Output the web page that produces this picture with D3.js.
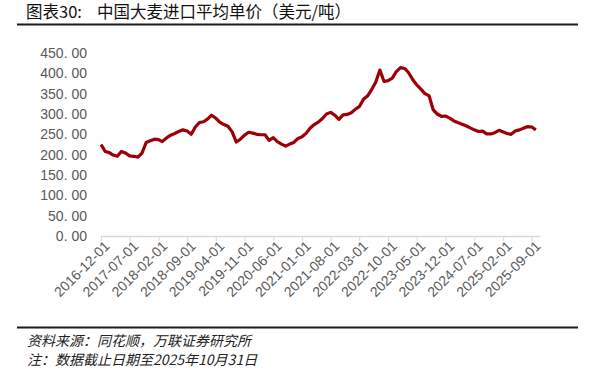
<!DOCTYPE html>
<html>
<head>
<meta charset="utf-8">
<script src="https://cdn.jsdelivr.net/npm/d3@7"></script>
<style>
  body { margin: 0; background: #fff; }
  svg { display: block; }
</style>
</head>
<body>
<div class="container"></div>
<script>
// monthly average import price of barley, USD/t, 2016-12 .. 2025-10
const startMonth = new Date(2016, 11, 1)
const endMonth = new Date(2025, 10, 1)

const prices = [
  225, 208, 205, 199, 196, 208, 204, 197, 196, 194,
  204, 230, 234, 238, 237, 232, 241, 248, 252, 257,
  261, 258, 250, 268, 279, 281, 288, 297, 290, 280,
  274, 270, 256, 231, 238, 248, 255, 253, 250, 249,
  249, 235, 242, 232, 226, 221, 226, 230, 240, 244,
  253, 265, 274, 280, 289, 300, 304, 297, 287, 298,
  299, 303, 312, 318, 336, 344, 360, 378, 408, 380,
  382, 388, 404, 414, 412, 402, 385, 372, 361, 350,
  345, 310, 300, 294, 295, 290, 283, 279, 275, 271,
  266, 261, 257, 258, 251, 251, 254, 260, 256, 252,
  250, 258, 261, 265, 269, 268, 261
]

const tickLabels = [
  '2016-12-01', '2017-07-01', '2018-02-01', '2018-09-01', '2019-04-01',
  '2019-11-01', '2020-06-01', '2021-01-01', '2021-08-01', '2022-03-01',
  '2022-10-01', '2023-05-01', '2023-12-01', '2024-07-01', '2025-02-01',
  '2025-09-01'
]

const yTicks = [0, 50, 100, 150, 200, 250, 300, 350, 400, 450]

const months = d3.timeMonth.range(startMonth, endMonth)
const dataset = months.map((m, i) => ({ date: m, value: prices[i] }))

const width = 591
const height = 374
const cjk = '"Noto Sans CJK SC", "Noto Sans", sans-serif'
const latin = '"Liberation Sans", Arial, sans-serif'

const svg = d3.select('.container')
  .append('svg')
  .attr('width', width)
  .attr('height', height)

// title + rules
svg.append('text')
  .attr('x', 26)
  .attr('y', 18)
  .attr('font-family', cjk)
  .attr('font-size', '16.5px')
  .attr('fill', '#111')
  .text('图表30:')

svg.append('text')
  .attr('x', 97)
  .attr('y', 18)
  .attr('font-family', cjk)
  .attr('font-size', '16.5px')
  .attr('fill', '#111')
  .text('中国大麦进口平均单价（美元/吨）')

svg.append('line')
  .attr('x1', 17).attr('x2', 578)
  .attr('y1', 24.5).attr('y2', 24.5)
  .attr('stroke', '#1a1a1a')
  .attr('stroke-width', 2)

svg.append('line')
  .attr('x1', 17).attr('x2', 578)
  .attr('y1', 327.5).attr('y2', 327.5)
  .attr('stroke', '#1a1a1a')
  .attr('stroke-width', 2)

const xScale = d3.scaleTime()
  .domain([startMonth, endMonth])
  .range([101, 540])

const yScale = d3.scaleLinear()
  .domain([0, 450])
  .range([236, 53])

// x axis
const parse = d3.timeParse('%Y-%m-%d')
const xAxis = svg.append('g')
  .attr('transform', 'translate(0, 236)')
  .call(d3.axisBottom(xScale)
    .tickValues(tickLabels.map(parse))
    .tickFormat(d3.timeFormat('%Y-%m-%d'))
    .tickSize(5)
    .tickSizeOuter(0))

xAxis.select('.domain').attr('stroke', '#d9d9d9').attr('stroke-width', 1.5)
xAxis.selectAll('.tick line').attr('stroke', '#d9d9d9')
xAxis.selectAll('text')
  .attr('font-family', latin)
  .attr('font-size', '14px')
  .attr('fill', '#595959')
  .attr('text-anchor', 'end')
  .attr('dx', '-0.1em')
  .attr('dy', '0.45em')
  .attr('transform', 'rotate(-45)')

// y axis, labels only
const yAxis = svg.append('g')
  .attr('transform', 'translate(89, 0)')
  .call(d3.axisLeft(yScale)
    .tickValues(yTicks)
    .tickFormat((d) => d3.format('.2f')(d).replace('.', '. '))
    .tickSize(0)
    .tickPadding(2))

yAxis.select('.domain').remove()
yAxis.selectAll('text')
  .attr('font-family', latin)
  .attr('font-size', '14px')
  .attr('fill', '#595959')
  .style('white-space', 'pre')

// price line
const line = d3.line()
  .x((d) => xScale(d.date))
  .y((d) => yScale(d.value))

svg.append('path')
  .datum(dataset)
  .attr('fill', 'none')
  .attr('stroke', '#9c0006')
  .attr('stroke-width', 3.2)
  .attr('stroke-linejoin', 'round')
  .attr('d', line)

// footer notes
svg.append('text')
  .attr('x', 27)
  .attr('y', 346)
  .attr('font-family', cjk)
  .attr('font-size', '14px')
  .attr('font-style', 'italic')
  .attr('fill', '#222')
  .text('资料来源：同花顺，万联证券研究所')

svg.append('text')
  .attr('x', 27)
  .attr('y', 365)
  .attr('font-family', cjk)
  .attr('font-size', '14px')
  .attr('font-style', 'italic')
  .attr('fill', '#222')
  .text('注：数据截止日期至2025年10月31日')
</script>
</body>
</html>
